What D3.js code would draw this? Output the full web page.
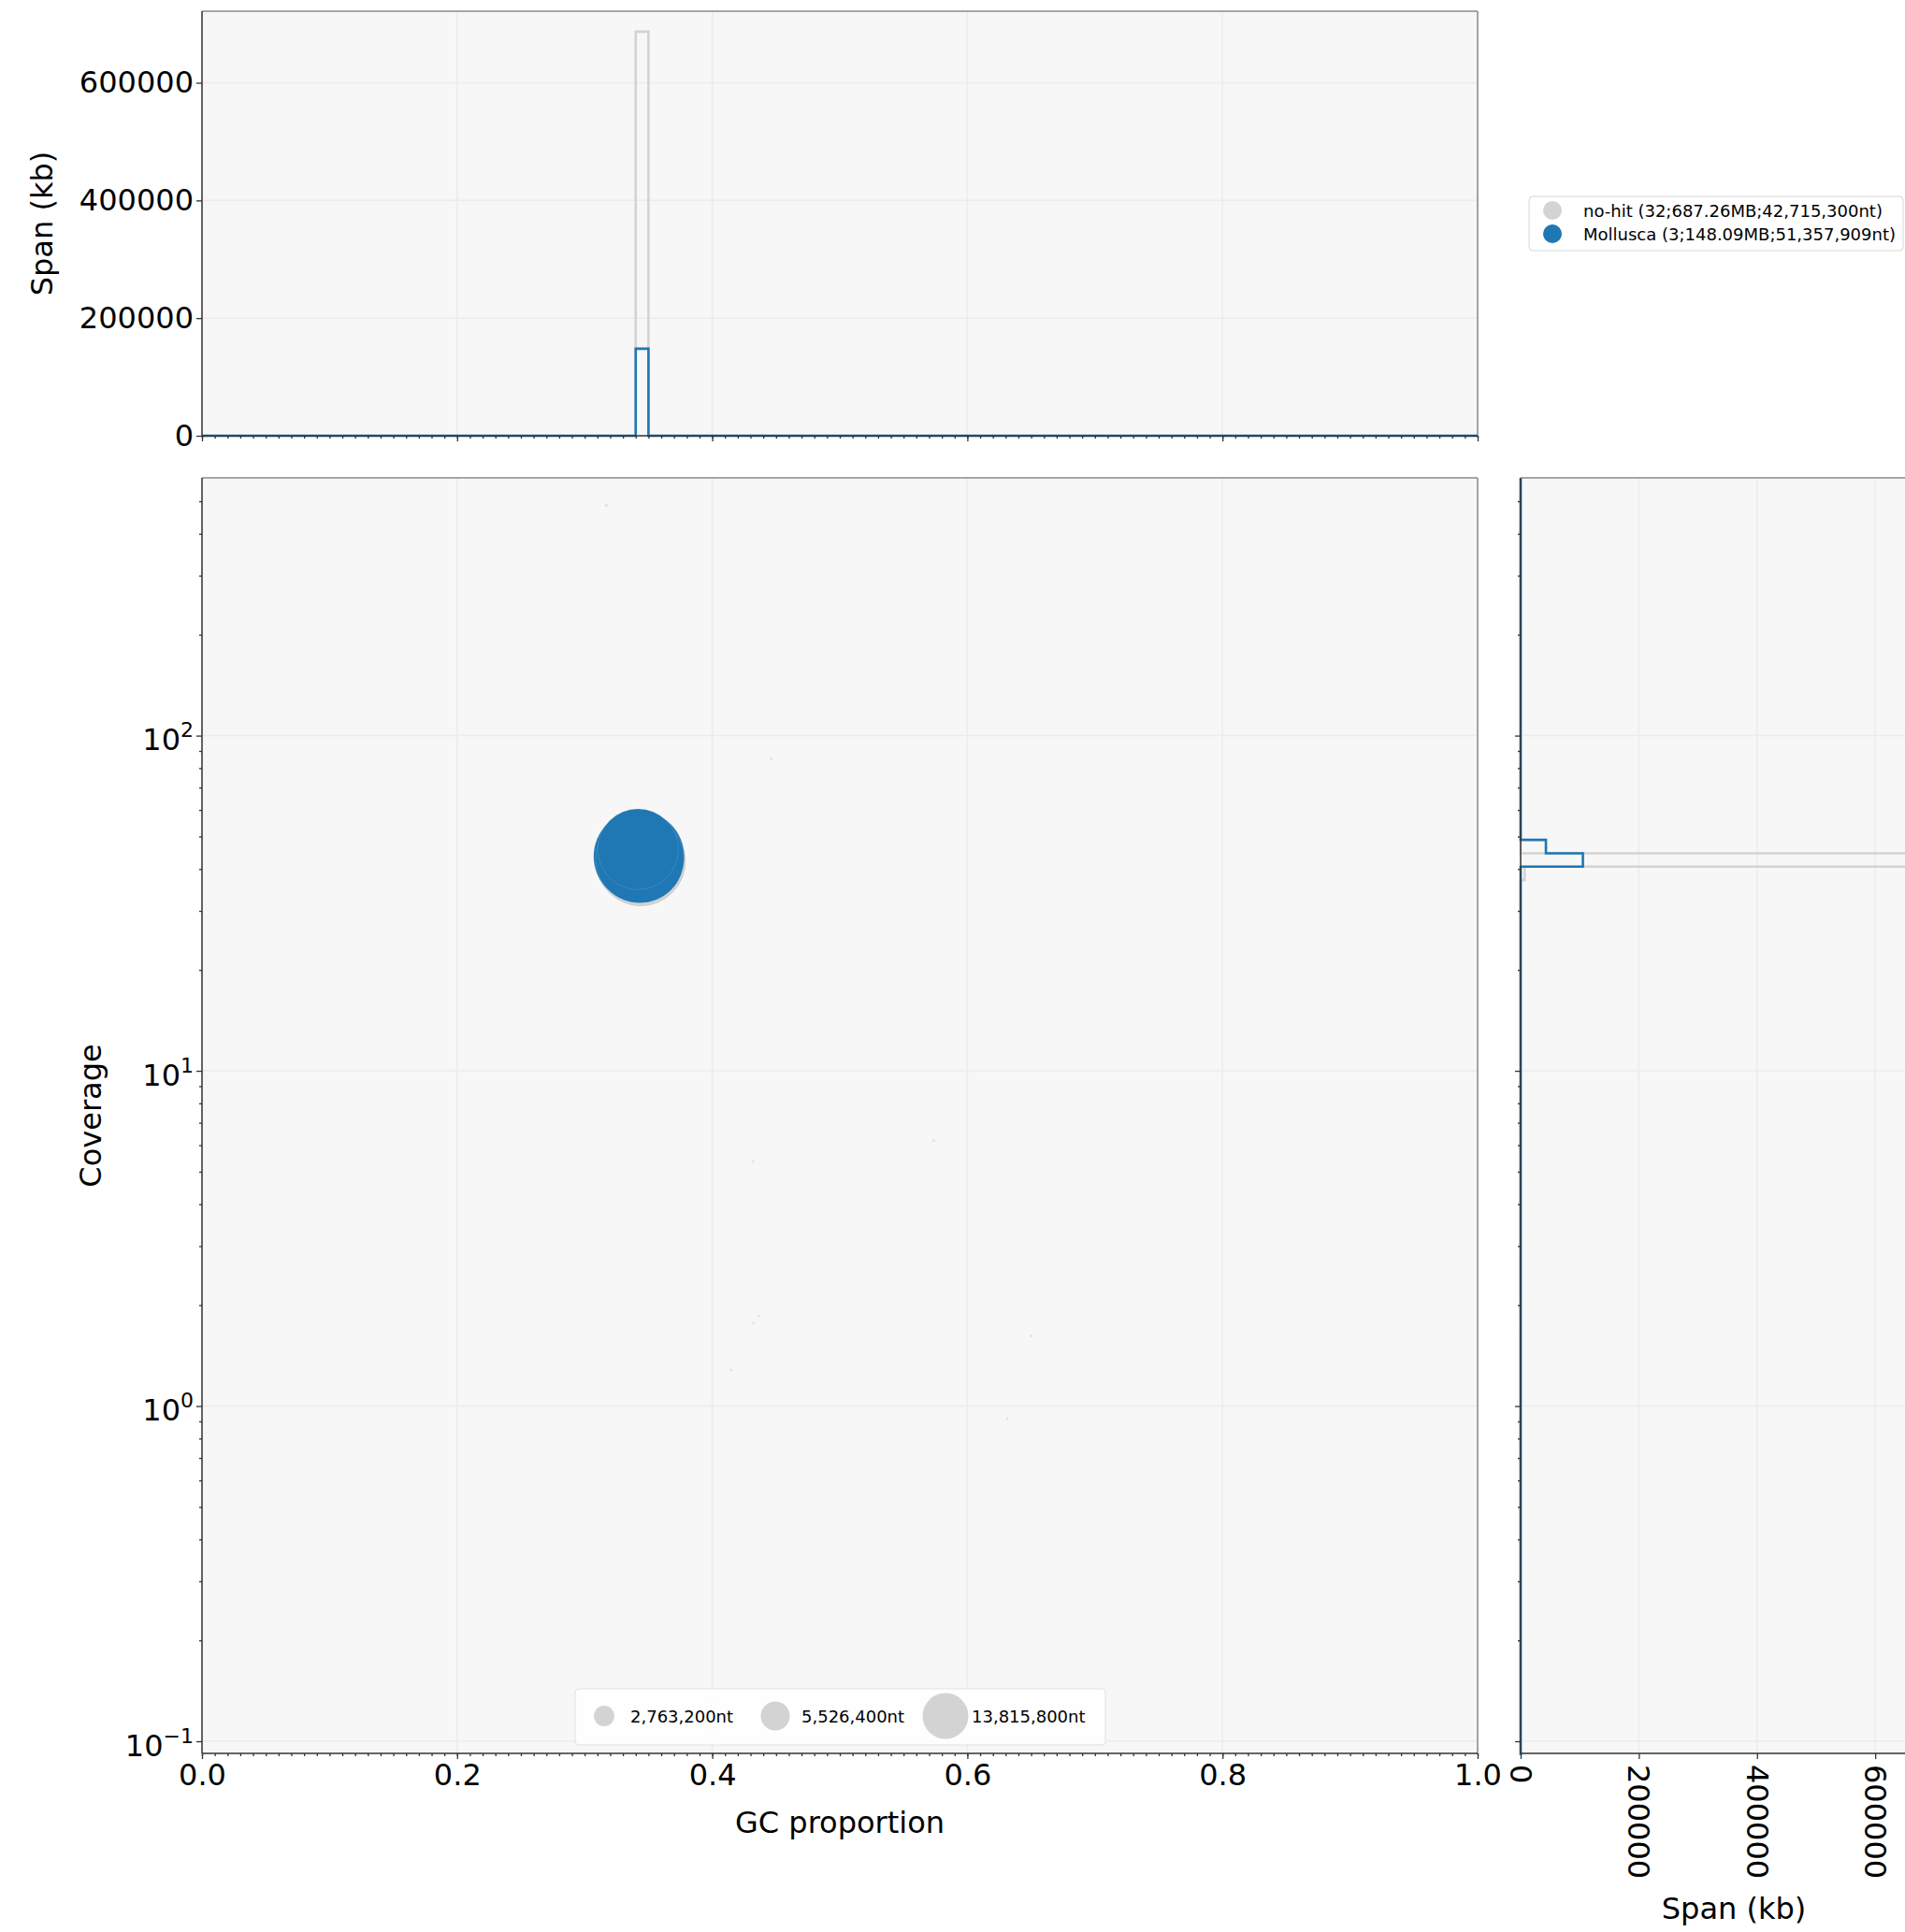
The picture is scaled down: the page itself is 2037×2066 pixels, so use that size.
<!DOCTYPE html>
<html lang="en">
<head>
<meta charset="UTF-8">
<title>Blob plot</title>
<script src="https://d3js.org/d3.v7.min.js"></script>
<style>
  body { margin: 0; background: #fff; }
  svg text { font-family: "DejaVu Sans", sans-serif; fill: #000; }
  .tick line { stroke: #333; }
</style>
</head>
<body>
<svg id="chart" width="2037" height="2066"></svg>
<script>
// ---- data ----
// no-hit contigs: GC proportion, coverage, length (nt)
const nohitGC  = [0.3440, 0.3428, 0.3433, 0.3424, 0.3436, 0.3430, 0.3427, 0.3435,
                  0.3431, 0.3426, 0.3438, 0.3429, 0.3434, 0.3422, 0.3441, 0.3432,
                  0.3419, 0.3437, 0.3425, 0.3443, 0.3421, 0.3430, 0.3433,
                  0.3169, 0.4464, 0.4318, 0.5736, 0.4368, 0.4324, 0.4148, 0.6501, 0.6313];
const nohitCov = [42.2, 43.4, 42.8, 43.9, 43.1, 42.5, 44.1, 43.6,
                  42.9, 43.2, 42.6, 44.0, 43.5, 42.1, 43.0, 41.7,
                  44.3, 41.2, 43.8, 42.4, 41.5, 44.4, 39.0,
                  486, 85.2, 5.36, 6.19, 1.86, 1.77, 1.28, 1.62, 0.918];
const nohitLen = [52140000, 50020000, 48310000, 46270000, 45080000, 44120000, 43530000, 42715300,
                  40100000, 38200000, 35600000, 32900000, 30400000, 27600000, 24800000, 21500000,
                  18300000, 14700000, 10900000, 7200000, 4100000, 1555000, 6800000,
                  62000, 48000, 41000, 45000, 38000, 52000, 44000, 50000, 40000];

// Mollusca contigs
const molluscaGC  = [0.3425, 0.3432, 0.3418];
const molluscaCov = [43.6, 42.9, 45.8];
const molluscaLen = [53960000, 51357909, 42772091];

const legendLabels = ["no-hit (32;687.26MB;42,715,300nt)", "Mollusca (3;148.09MB;51,357,909nt)"];
const legendColors = ["#d3d3d3", "#1f77b4"];
const sizeLegendLen = [2763200, 5526400, 13815800];
const sizeLegendLabels = ["2,763,200nt", "5,526,400nt", "13,815,800nt"];

const gcTicks = [0, 0.2, 0.4, 0.6, 0.8, 1.0];
const spanTicks = [0, 200000, 400000, 600000];
const covTicks = [0.1, 1, 10, 100];
const covTickExp = ["\u22121", "0", "1", "2"];

// ---- layout ----
const M = {left: 216, right: 1580, top: 511, bottom: 1875};   // scatter
const T = {top: 12, bottom: 466};                             // top histogram
const R = {left: 1626, right: 2082};                          // right histogram (cut off)
const bg = "#f7f7f7", gridCol = "#ebebf0";

const svg = d3.select("#chart");

const x = d3.scaleLinear([0, 1], [M.left, M.right]);
const y = d3.scaleLog([0.09201, 587.3], [M.bottom, M.top]);
const spanY = d3.scaleLinear([0, 721600], [T.bottom, T.top]);
const spanX = d3.scaleLinear([0, 721600], [R.left, R.right]);
const size = d3.scaleSqrt([0, 13815800], [0, 24.5]);

const nohit = nohitGC.map((gc, i) => ({gc, cov: nohitCov[i], len: nohitLen[i]}));
const mollusca = molluscaGC.map((gc, i) => ({gc, cov: molluscaCov[i], len: molluscaLen[i]}));

// panels
function panel(id, x0, y0, x1, y1) {
    svg.append("rect").attr("x", x0).attr("y", y0)
        .attr("width", x1 - x0).attr("height", y1 - y0).attr("fill", bg);
    svg.append("clipPath").attr("id", id).append("rect")
        .attr("x", x0 - 2).attr("y", y0 - 2)
        .attr("width", x1 - x0 + 4).attr("height", y1 - y0 + 4);
}
panel("clipTop", M.left, T.top, M.right, T.bottom);
panel("clipMain", M.left, M.top, M.right, M.bottom);
panel("clipRight", R.left, M.top, R.right, M.bottom);

// gridlines
const grid = svg.append("g").attr("stroke", gridCol).attr("stroke-width", 1.5);
gcTicks.forEach(v => {
    grid.append("line").attr("x1", x(v)).attr("x2", x(v)).attr("y1", T.top).attr("y2", T.bottom);
    grid.append("line").attr("x1", x(v)).attr("x2", x(v)).attr("y1", M.top).attr("y2", M.bottom);
});
spanTicks.forEach(v => {
    grid.append("line").attr("x1", M.left).attr("x2", M.right).attr("y1", spanY(v)).attr("y2", spanY(v));
    grid.append("line").attr("x1", spanX(v)).attr("x2", spanX(v)).attr("y1", M.top).attr("y2", M.bottom);
});
covTicks.forEach(v => {
    grid.append("line").attr("x1", M.left).attr("x2", M.right).attr("y1", y(v)).attr("y2", y(v));
    grid.append("line").attr("x1", R.left).attr("x2", R.right).attr("y1", y(v)).attr("y2", y(v));
});

// ---- scatter ----
const sc = svg.append("g").attr("clip-path", "url(#clipMain)");
sc.selectAll("circle.nohit").data(nohit).join("circle")
    .attr("class", "nohit")
    .attr("cx", d => x(d.gc)).attr("cy", d => y(d.cov)).attr("r", d => size(d.len))
    .attr("fill", "#d3d3d3").attr("fill-opacity", d => d.len < 1e6 ? 0.6 : 1)
    .attr("stroke", "#cdcdcd").attr("stroke-width", d => d.len < 1e6 ? 0 : 1);
sc.selectAll("circle.moll").data(mollusca).join("circle")
    .attr("class", "moll")
    .attr("cx", d => x(d.gc)).attr("cy", d => y(d.cov)).attr("r", d => size(d.len))
    .attr("fill", "#1f77b4")
    .attr("stroke", "#ffffff").attr("stroke-opacity", 0.12).attr("stroke-width", 1);

// ---- histograms ----
const gcBin = d3.bin().value(d => d.gc).domain([0, 1])
    .thresholds(d3.range(1, 100).map(i => i / 100));
const covEdges = d3.range(0, 97).map(k => 2.769 - 0.04 * k).reverse();
const covBin = d3.bin().value(d => Math.log10(d.cov))
    .domain([covEdges[0], covEdges[covEdges.length - 1]])
    .thresholds(covEdges.slice(1, -1));

function stepPoints(bins) {
    const h = bins.map(b => ({x0: b.x0, x1: b.x1, v: d3.sum(b, d => d.len) / 1000}));
    const pts = [[h[0].x0, 0]];
    h.forEach(b => { pts.push([b.x0, b.v], [b.x1, b.v]); });
    pts.push([h[h.length - 1].x1, 0]);
    return pts;
}

const topLine = d3.line().x(p => x(p[0])).y(p => spanY(p[1]));
const rightLine = d3.line().x(p => spanX(p[1])).y(p => y(Math.pow(10, p[0])));

const th = svg.append("g").attr("clip-path", "url(#clipTop)").attr("fill", "none").attr("stroke-width", 2.6);
const rh = svg.append("g").attr("clip-path", "url(#clipRight)").attr("fill", "none").attr("stroke-width", 2.6);
[[nohit, legendColors[0]], [mollusca, legendColors[1]]].forEach(([arr, col]) => {
    th.append("path").attr("d", topLine(stepPoints(gcBin(arr)))).attr("stroke", col);
    rh.append("path").attr("d", rightLine(stepPoints(covBin(arr)))).attr("stroke", col);
});

// ---- axes ----
const minorGC = d3.range(0, 101).map(i => i / 100);
const minorCov = y.ticks().filter(v => Math.abs(Math.log10(v) - Math.round(Math.log10(v))) > 1e-6);

function style(g) {
    g.select(".domain").remove();
    g.attr("font-size", 32).attr("font-family", "DejaVu Sans, sans-serif");
    g.selectAll(".tick line").attr("stroke", "#333").attr("stroke-width", 1.3);
    g.selectAll(".tick text").attr("fill", "#000");
}

// scatter x axis
svg.append("g").attr("transform", `translate(0,${M.bottom})`)
    .call(d3.axisBottom(x).tickValues(minorGC).tickSize(3).tickFormat("")).call(style);
svg.append("g").attr("transform", `translate(0,${M.bottom})`)
    .call(d3.axisBottom(x).tickValues(gcTicks).tickSize(6).tickPadding(5).tickFormat(d3.format(".1f"))).call(style);
// top hist x axis (no labels)
svg.append("g").attr("transform", `translate(0,${T.bottom})`)
    .call(d3.axisBottom(x).tickValues(minorGC).tickSize(3).tickFormat("")).call(style);
svg.append("g").attr("transform", `translate(0,${T.bottom})`)
    .call(d3.axisBottom(x).tickValues(gcTicks).tickSize(6).tickFormat("")).call(style);
// top hist y axis
svg.append("g").attr("transform", `translate(${M.left},0)`)
    .call(d3.axisLeft(spanY).tickValues(spanTicks).tickSize(6).tickPadding(3).tickFormat(d3.format("d"))).call(style);
// scatter y axis (log) and right hist y axis
[M.left, R.left].forEach(px => {
    svg.append("g").attr("transform", `translate(${px},0)`)
        .call(d3.axisLeft(y).tickValues(minorCov).tickSize(3).tickFormat("")).call(style);
    svg.append("g").attr("transform", `translate(${px},0)`)
        .call(d3.axisLeft(y).tickValues(covTicks).tickSize(6).tickFormat("")).call(style);
});
const covLab = svg.append("g");
covTicks.forEach((v, i) => {
    const t = covLab.append("text").attr("x", 207).attr("y", y(v) + 15.5)
        .attr("text-anchor", "end").attr("font-size", 32);
    t.append("tspan").text("10");
    t.append("tspan").attr("dy", -14).attr("font-size", 22).text(covTickExp[i]);
});
// right hist x axis
svg.append("g").attr("transform", `translate(0,${M.bottom})`)
    .call(d3.axisBottom(spanX).tickValues(spanTicks).tickSize(6).tickFormat("")).call(style);
svg.append("g").selectAll("text").data(spanTicks).join("text")
    .attr("transform", d => `translate(${spanX(d)},${M.bottom + 12}) rotate(90)`)
    .attr("text-anchor", "start").attr("dominant-baseline", "central")
    .attr("font-size", 32).text(d3.format("d"));

// spines
function spines(x0, y0, x1, y1) {
    const g = svg.append("g").attr("stroke-width", 1.5);
    g.append("line").attr("x1", x0).attr("x2", x1).attr("y1", y0).attr("y2", y0).attr("stroke", "#8a8a8a");
    g.append("line").attr("x1", x1).attr("x2", x1).attr("y1", y0).attr("y2", y1).attr("stroke", "#8a8a8a");
    g.append("line").attr("x1", x0).attr("x2", x0).attr("y1", y0).attr("y2", y1).attr("stroke", "#333");
    g.append("line").attr("x1", x0).attr("x2", x1).attr("y1", y1).attr("y2", y1).attr("stroke", "#333");
}
spines(M.left, T.top, M.right, T.bottom);
spines(M.left, M.top, M.right, M.bottom);
spines(R.left, M.top, R.right, M.bottom);

// axis labels
svg.append("text").attr("x", (M.left + M.right) / 2).attr("y", 1960)
    .attr("text-anchor", "middle").attr("font-size", 32).text("GC proportion");
svg.append("text").attr("x", (R.left + R.right) / 2).attr("y", 2052)
    .attr("text-anchor", "middle").attr("font-size", 32).text("Span (kb)");
svg.append("text").attr("transform", `translate(56,${(T.top + T.bottom) / 2}) rotate(-90)`)
    .attr("text-anchor", "middle").attr("font-size", 32).text("Span (kb)");
svg.append("text").attr("transform", `translate(108,${(M.top + M.bottom) / 2}) rotate(-90)`)
    .attr("text-anchor", "middle").attr("font-size", 32).text("Coverage");

// taxon legend
const lg = svg.append("g");
lg.append("rect").attr("x", 1635).attr("y", 210).attr("width", 400).attr("height", 58)
    .attr("rx", 4).attr("fill", "#fff").attr("stroke", "#d6d6d6");
legendLabels.forEach((lab, i) => {
    lg.append("circle").attr("cx", 1660).attr("cy", 225 + i * 25).attr("r", 10).attr("fill", legendColors[i]);
    lg.append("text").attr("x", 1693).attr("y", 225 + i * 25).attr("dominant-baseline", "central")
        .attr("font-size", 18).text(lab);
});

// size legend
const sl = svg.append("g");
sl.append("rect").attr("x", 615).attr("y", 1806).attr("width", 567).attr("height", 60)
    .attr("rx", 4).attr("fill", "#fff").attr("fill-opacity", 0.85).attr("stroke", "#e0e0e0");
const slX = [646, 829, 1011];
sizeLegendLen.forEach((len, i) => {
    sl.append("circle").attr("cx", slX[i]).attr("cy", 1835).attr("r", size(len)).attr("fill", "#d3d3d3");
    sl.append("text").attr("x", slX[i] + 28).attr("y", 1835).attr("dominant-baseline", "central")
        .attr("font-size", 18).text(sizeLegendLabels[i]);
});
</script>
</body>
</html>
